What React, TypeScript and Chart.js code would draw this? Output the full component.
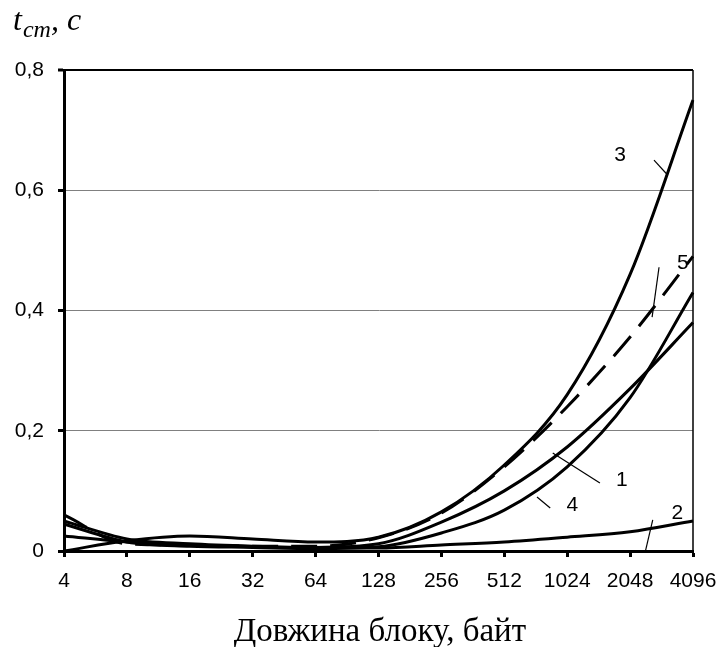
import React, { useEffect, useRef } from "react";
import { Chart, registerables } from "chart.js";

Chart.register(...registerables);

const categories = ["4", "8", "16", "32", "64", "128", "256", "512", "1024", "2048", "4096"];
const yTicks = [0, 0.2, 0.4, 0.6, 0.8];

const curve1 = [0.05, 0.02, 0.012, 0.008, 0.006, 0.012, 0.048, 0.1, 0.173, 0.27, 0.38];
const curve2 = [0.025, 0.015, 0.01, 0.007, 0.005, 0.005, 0.01, 0.015, 0.023, 0.032, 0.05];
const curve3 = [0.0, 0.017, 0.025, 0.02, 0.015, 0.023, 0.065, 0.143, 0.26, 0.46, 0.75];
const curve4 = [0.045, 0.015, 0.008, 0.006, 0.004, 0.007, 0.03, 0.068, 0.14, 0.255, 0.43];
const curve5 = [0.06, 0.012, 0.01, 0.008, 0.008, 0.022, 0.063, 0.14, 0.24, 0.356, 0.49];

// curve labels: text, label position (category index, value), leader line from/to
const labelNames = ["1", "2", "3", "4", "5"];
const labelAt = [
  [8.87, 0.118],
  [9.75, 0.063],
  [8.84, 0.659],
  [8.08, 0.0765],
  [9.84, 0.479],
];
const leaderFrom = [
  [7.77, 0.163],
  [9.24, -0.002],
  [9.6, 0.625],
  [7.52, 0.0898],
  [9.35, 0.389],
];
const leaderTo = [
  [8.52, 0.113],
  [9.36, 0.0516],
  [9.38, 0.65],
  [7.73, 0.0715],
  [9.46, 0.472],
];

const xTitle = "Довжина блоку, байт";

const SANS = "'Liberation Sans', Arial, sans-serif";
const SERIF = "'Liberation Serif', 'Times New Roman', serif";

const overlay = {
  id: "overlay",
  afterDraw(chart: any) {
    const { ctx, chartArea } = chart;
    const xs = chart.scales.x;
    const ys = chart.scales.y;
    ctx.save();
    // right border
    ctx.strokeStyle = "#000";
    ctx.lineWidth = 1.5;
    ctx.beginPath();
    ctx.moveTo(chartArea.right, chartArea.top);
    ctx.lineTo(chartArea.right, chartArea.bottom);
    ctx.stroke();

    // leaders
    ctx.lineWidth = 1.2;
    for (let i = 0; i < labelNames.length; i++) {
      ctx.beginPath();
      ctx.moveTo(xs.getPixelForValue(leaderFrom[i][0]), ys.getPixelForValue(leaderFrom[i][1]));
      ctx.lineTo(xs.getPixelForValue(leaderTo[i][0]), ys.getPixelForValue(leaderTo[i][1]));
      ctx.stroke();
    }
    // labels
    ctx.fillStyle = "#000";
    ctx.font = `21px ${SANS}`;
    ctx.textAlign = "center";
    ctx.textBaseline = "middle";
    for (let i = 0; i < labelNames.length; i++) {
      ctx.fillText(labelNames[i], xs.getPixelForValue(labelAt[i][0]), ys.getPixelForValue(labelAt[i][1]));
    }

    // x title
    ctx.font = `33px ${SERIF}`;
    ctx.textBaseline = "alphabetic";
    ctx.fillText(xTitle, 380, 641);

    // y title: t_cm, c
    ctx.textAlign = "left";
    let x = 13;
    ctx.font = `italic 32px ${SERIF}`;
    ctx.fillText("t", x, 30);
    x += ctx.measureText("t").width + 1;
    ctx.font = `italic 24px ${SERIF}`;
    ctx.fillText("cm", x, 37);
    x += ctx.measureText("cm").width;
    ctx.font = `italic 32px ${SERIF}`;
    ctx.fillText(", c", x, 30);
    ctx.restore();
  },
};

export default function App() {
  const ref = useRef<HTMLCanvasElement>(null);
  useEffect(() => {
    if (!ref.current) return;
    const mk = (data: number[], dash: number[] = []) => ({
      data,
      borderColor: "#000",
      borderWidth: 3,
      borderDash: dash,
      pointRadius: 0,
      cubicInterpolationMode: "monotone" as const,
      fill: false,
    });
    const chart = new Chart(ref.current, {
      type: "line",
      data: {
        labels: categories,
        datasets: [mk(curve1), mk(curve2), mk(curve3), mk(curve4), mk(curve5, [26, 13])],
      },
      options: {
        animation: false,
        responsive: false,
        devicePixelRatio: 1,
        layout: { padding: { left: 0, top: 70, right: 31, bottom: 0 } },
        plugins: { legend: { display: false }, tooltip: { enabled: false } },
        scales: {
          x: {
            offset: false,
            grid: {
              drawOnChartArea: false,
              drawTicks: true,
              tickLength: 6,
              tickColor: "#000",
              tickWidth: 3,
            },
            border: { display: true, color: "#000", width: 3 },
            ticks: {
              color: "#000",
              font: { family: SANS, size: 21 },
              padding: 12,
              maxRotation: 0,
              autoSkip: false,
            },
            afterFit: (s: any) => {
              s.height = 96;
              s.paddingRight = 0;
              s.paddingLeft = 0;
            },
          },
          y: {
            min: 0,
            max: 0.8,
            afterBuildTicks: (s: any) => {
              s.ticks = yTicks.map((v) => ({ value: v }));
            },
            grid: {
              color: (c: any) => (c.tick && Math.abs(c.tick.value - 0.8) < 1e-6 ? "#000" : "#808080"),
              lineWidth: (c: any) => (c.tick && Math.abs(c.tick.value - 0.8) < 1e-6 ? 2 : 1),
              drawTicks: true,
              tickLength: 6,
              tickColor: "#000",
              tickWidth: 3,
            },
            border: { display: true, color: "#000", width: 3 },
            ticks: {
              color: "#000",
              font: { family: SANS, size: 21 },
              padding: 14,
              callback: (v: any) => (Number(v) === 0 ? "0" : Number(v).toFixed(1).replace(".", ",")),
            },
            afterFit: (s: any) => {
              s.width = 64;
              s.paddingTop = 0;
              s.paddingBottom = 0;
            },
          },
        },
      },
      plugins: [overlay],
    });
    return () => chart.destroy();
  }, []);
  return (
    <canvas
      ref={ref}
      width={724}
      height={647}
      style={{ position: "fixed", left: 0, top: 0, display: "block", background: "#fff" }}
    />
  );
}
